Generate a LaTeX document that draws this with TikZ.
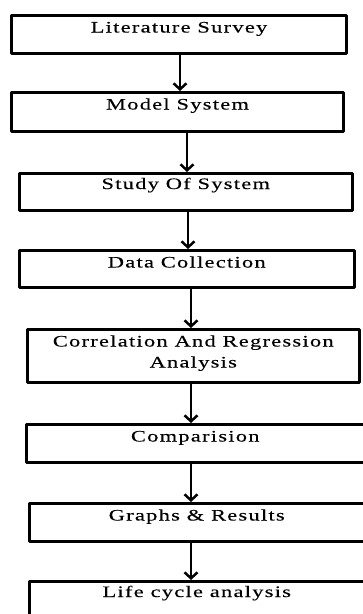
\documentclass[tikz,border=0pt]{standalone}
\usepackage{fontspec}
\setmainfont{Liberation Serif}[FakeStretch=1.4,LetterSpace=8,FakeBold=0.25]
\usetikzlibrary{arrows.meta}

\begin{document}
\begin{tikzpicture}[x=1pt,y=-1pt,line join=round,>={Straight Barb[length=6pt,width=13pt]},
    stage/.style={draw,line width=3pt,anchor=north,inner ysep=0pt,text height=17pt,text depth=21pt,
      font=\fontsize{16}{21}\selectfont,align=center}]
  \useasboundingbox (0,0) rectangle (362,614);
  \node[stage,minimum width=335pt] (survey) at (179,14) {Literature Survey};
  \node[stage,minimum width=332pt,text depth=22pt] (model) at (177.5,91) {Model System};
  \node[stage,minimum width=332.5pt,text height=15.5pt,text depth=21.5pt] (study) at (185.75,172) {Study Of System};
  \node[stage,minimum width=334.5pt,text depth=20pt] (data) at (186.75,249) {Data Collection};
  \node[stage,minimum width=331.5pt,text height=38pt,text depth=15pt] (corr) at (193.25,328) {Correlation And Regression\\Analysis};
  \node[stage,minimum width=337.5pt] (comp) at (195.25,423) {Comparision};
  \node[stage,minimum width=334.5pt] (graphs) at (196.75,502) {Graphs \& Results};
  \node[stage,minimum width=334.5pt,text height=15.5pt,text depth=24pt] (life) at (196.75,580) {Life cycle analysis};
  \foreach \a/\b/\x in {survey/model/180,model/study/187,study/data/188,data/corr/191,
      corr/comp/191,comp/graphs/191,graphs/life/191}
    \draw[->,line width=2.5pt] (\a.south -| \x,0) -- (\b.north -| \x,0);
\end{tikzpicture}
\end{document}
